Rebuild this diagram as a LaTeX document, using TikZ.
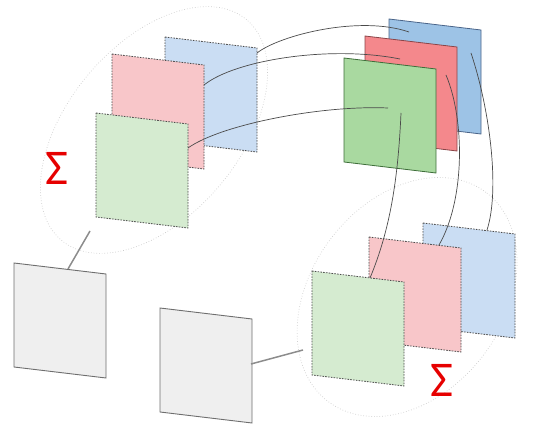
\documentclass[tikz,border=0pt]{standalone}
\usepackage{fontspec}
\setmainfont{Carlito}
\definecolor{lblue}{HTML}{CADDF3}
\definecolor{lpink}{HTML}{F8C6C9}
\definecolor{lgreen}{HTML}{D5EBD0}
\definecolor{sblue}{HTML}{9DC3E6}
\definecolor{spink}{HTML}{F4888C}
\definecolor{sgreen}{HTML}{A9D9A0}
\definecolor{sbluedk}{HTML}{4A6489}
\definecolor{spinkdk}{HTML}{8A4548}
\definecolor{sgreendk}{HTML}{3E6E3A}
\definecolor{dashdk}{HTML}{4A4A4A}
\definecolor{grayfill}{HTML}{EFEFEF}
\definecolor{grayedge}{HTML}{6E6E6E}
\definecolor{linkgray}{HTML}{8C8C8C}
\definecolor{curvegray}{HTML}{4A4A4A}
\definecolor{sigred}{HTML}{E60000}
\newcommand\panelshape[4]{%
  \path[#4] (#2,#3) coordinate (#1-tl) -- ++(92,11) coordinate (#1-tr)
    -- ++(0,104) coordinate (#1-br) -- ++(-92,-11) coordinate (#1-bl) -- cycle;}
\tikzset{
  dashpanel/.style={draw=dashdk, line width=0.8pt, dash pattern=on 1.6pt off 1.2pt},
  lightblue/.style={dashpanel, fill=lblue},
  lightpink/.style={dashpanel, fill=lpink},
  lightgreen/.style={dashpanel, fill=lgreen},
  solidblue/.style={draw=sbluedk, line width=0.8pt, fill=sblue},
  solidpink/.style={draw=spinkdk, line width=0.8pt, fill=spink},
  solidgreen/.style={draw=sgreendk, line width=0.8pt, fill=sgreen},
  graypanel/.style={draw=grayedge, line width=0.9pt, fill=grayfill},
  groupring/.style={draw=gray!40, line width=0.7pt, dotted},
  graylink/.style={draw=linkgray, line width=1.5pt},
  flow/.style={draw=curvegray, line width=0.7pt},
  sigma/.style={text=sigred, font=\fontsize{50}{50}\selectfont, inner sep=0pt}
}
\begin{document}
\begin{tikzpicture}[x=1pt, y=-1pt]
\useasboundingbox (0,0) rectangle (533,430);
% group rings
\coordinate (lring) at (154,130);
\coordinate (rring) at (407,297);
\draw[groupring, rotate around={50:(lring)}] (lring) ellipse [x radius=144pt, y radius=86pt];
\draw[groupring, rotate around={53:(rring)}] (rring) ellipse [x radius=131pt, y radius=96pt];
% left group
\panelshape{lb}{165}{37}{lightblue}
\panelshape{lp}{112}{54}{lightpink}
\panelshape{lg}{96}{113}{lightgreen}
% top right group
\panelshape{rb}{389}{19}{solidblue}
\panelshape{rp}{365}{36}{solidpink}
\panelshape{rg}{344}{58}{solidgreen}
% bottom right group
\panelshape{bb}{423}{223}{lightblue}
\panelshape{bp}{369}{237}{lightpink}
\panelshape{bg}{312}{271}{lightgreen}
% gray panels
\panelshape{ga}{14}{263}{graypanel}
\panelshape{gb}{160}{308}{graypanel}
% sigma labels
\node[sigma] (sigl) at (57,168) {Σ};
\node[sigma] (sigr) at (442,380) {Σ};
% connection points
\coordinate (lb-o) at (257,53);
\coordinate (lp-o) at (204,85);
\coordinate (lg-o) at (188,148);
\coordinate (rb-i) at (409,32);
\coordinate (rp-i) at (400,59);
\coordinate (rg-i) at (388,108);
\coordinate (rg-o) at (401,113);
\coordinate (rp-o) at (446,75);
\coordinate (rb-o) at (471,53);
\coordinate (bg-i) at (370,278);
\coordinate (bp-i) at (439,245);
\coordinate (bb-i) at (487,230);
\coordinate (ga-o) at (68,269);
\coordinate (lring-i) at (90,231);
\coordinate (gb-o) at (251,364);
\coordinate (rring-i) at (303,350);
% curves
\draw[flow] (lb-o) .. controls (280,35) and (360,15) .. (rb-i);
\draw[flow] (lp-o) .. controls (235,60) and (330,45) .. (rp-i);
\draw[flow] (lg-o) .. controls (220,125) and (320,105) .. (rg-i);
\draw[flow] (rg-o) .. controls (398,180) and (390,230) .. (bg-i);
\draw[flow] (rp-o) .. controls (465,120) and (465,200) .. (bp-i);
\draw[flow] (rb-o) .. controls (490,110) and (500,190) .. (bb-i);
% gray links
\draw[graylink] (ga-o) -- (lring-i);
\draw[graylink] (gb-o) -- (rring-i);
\end{tikzpicture}
\end{document}
